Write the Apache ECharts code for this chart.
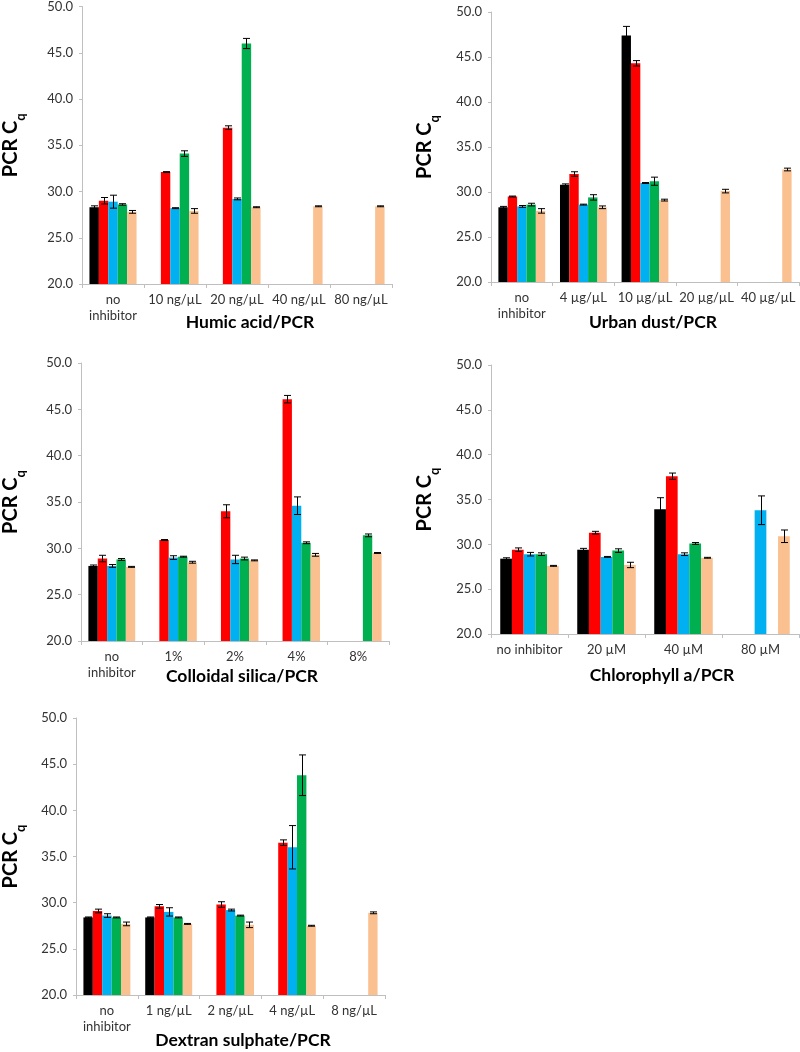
<!DOCTYPE html>
<html>
<head>
<meta charset="utf-8">
<script src="https://cdn.jsdelivr.net/npm/echarts@6/dist/echarts.min.js"></script>
<style>
html,body{margin:0;padding:0;background:#fff;}
#c{width:800px;height:1052px;}
</style>
</head>
<body>
<div id="c"></div>
<script>
// ---- data ----
const seriesColors = ['#000000', '#ff0000', '#00b0f0', '#00b050', '#fac090'];
const yTicks = ['20.0', '25.0', '30.0', '35.0', '40.0', '45.0', '50.0'];

const humicCats = ['no\ninhibitor', '10 ng/µL', '20 ng/µL', '40 ng/µL', '80 ng/µL'];
const humicVals = [
  [28.3, null, null, null, null],
  [29.0, 32.1, 36.9, null, null],
  [28.9, 28.2, 29.2, null, null],
  [28.6, 34.1, 46.0, null, null],
  [27.8, 27.9, 28.3, 28.4, 28.4]
];
const humicErrs = [
  [0.15, null, null, null, null],
  [0.35, 0.05, 0.2, null, null],
  [0.7, 0.05, 0.1, null, null],
  [0.08, 0.3, 0.55, null, null],
  [0.15, 0.25, 0.05, 0.05, 0.05]
];

const dustCats = ['no\ninhibitor', '4 µg/µL', '10 µg/µL', '20 µg/µL', '40 µg/µL'];
const dustVals = [
  [28.3, 30.8, 47.4, null, null],
  [29.5, 32.0, 44.3, null, null],
  [28.4, 28.6, 31.0, null, null],
  [28.6, 29.4, 31.2, null, null],
  [27.9, 28.3, 29.1, 30.1, 32.5]
];
const dustErrs = [
  [0.1, 0.1, 1.0, null, null],
  [0.05, 0.25, 0.3, null, null],
  [0.1, 0.05, 0.05, null, null],
  [0.15, 0.3, 0.45, null, null],
  [0.25, 0.15, 0.1, 0.2, 0.15]
];

const silicaCats = ['no\ninhibitor', '1%', '2%', '4%', '8%'];
const silicaVals = [
  [28.1, null, null, null, null],
  [28.9, 30.9, 34.0, 46.1, null],
  [28.1, 29.0, 28.8, 34.6, null],
  [28.8, 29.1, 28.9, 30.6, 31.4],
  [28.0, 28.5, 28.7, 29.3, 29.5]
];
const silicaErrs = [
  [0.1, null, null, null, null],
  [0.35, 0.05, 0.7, 0.4, null],
  [0.15, 0.2, 0.45, 0.95, null],
  [0.1, 0.05, 0.15, 0.1, 0.15],
  [0.05, 0.1, 0.05, 0.15, 0.05]
];

const chloroCats = ['no inhibitor', '20 µM', '40 µM', '80 µM'];
const chloroVals = [
  [28.4, 29.4, 33.9, null],
  [29.4, 31.3, 37.6, null],
  [28.9, 28.6, 28.9, 33.8],
  [28.9, 29.3, 30.1, null],
  [27.6, 27.7, 28.5, 30.9]
];
const chloroErrs = [
  [0.1, 0.15, 1.3, null],
  [0.2, 0.15, 0.35, null],
  [0.2, 0.05, 0.15, 1.6],
  [0.15, 0.2, 0.1, null],
  [0.05, 0.3, 0.05, 0.7]
];

const dextranCats = ['no\ninhibitor', '1 ng/µL', '2 ng/µL', '4 ng/µL', '8 ng/µL'];
const dextranVals = [
  [28.4, 28.4, null, null, null],
  [29.1, 29.6, 29.8, 36.5, null],
  [28.6, 29.0, 29.2, 36.0, null],
  [28.4, 28.4, 28.6, 43.8, null],
  [27.7, 27.7, 27.6, 27.5, 28.9]
];
const dextranErrs = [
  [0.05, 0.05, null, null, null],
  [0.2, 0.2, 0.3, 0.3, null],
  [0.2, 0.45, 0.1, 2.35, null],
  [0.05, 0.05, 0.05, 2.2, null],
  [0.2, 0.05, 0.3, 0.05, 0.1]
];

const panelTitles = ['Humic acid/PCR', 'Urban dust/PCR', 'Colloidal silica/PCR', 'Chlorophyll a/PCR', 'Dextran sulphate/PCR'];

// ---- layout ----
const FONT = 'Lato, "Open Sans", sans-serif';
const GAP = 0.24;
const panels = [
  { cats: humicCats, vals: humicVals, errs: humicErrs, grid: { left: 80, top: 5, width: 312, height: 279 }, title: [250, 313], nameGap: 55 },
  { cats: dustCats, vals: dustVals, errs: dustErrs, grid: { left: 491, top: 12, width: 308, height: 270 }, title: [653, 313], nameGap: 50 },
  { cats: silicaCats, vals: silicaVals, errs: silicaErrs, grid: { left: 79, top: 363, width: 310, height: 278 }, title: [242, 667], nameGap: 54 },
  { cats: chloroCats, vals: chloroVals, errs: chloroErrs, grid: { left: 491, top: 365, width: 308, height: 269 }, title: [662, 666], nameGap: 50 },
  { cats: dextranCats, vals: dextranVals, errs: dextranErrs, grid: { left: 74, top: 718, width: 311, height: 277 }, title: [243, 1031], nameGap: 49 }
];

const grids = [], xAxes = [], yAxes = [], series = [], titles = [];
panels.forEach((p, pi) => {
  grids.push(Object.assign({ containLabel: false }, p.grid));
  xAxes.push({
    type: 'category', gridIndex: pi, data: p.cats,
    axisLine: { lineStyle: { color: '#bfbfbf', width: 1 } },
    axisTick: { show: true, length: 4, lineStyle: { color: '#bfbfbf' } },
    axisLabel: { interval: 0, color: '#333', fontFamily: FONT, fontSize: 13, margin: 8, lineHeight: 16 },
    splitLine: { show: false }
  });
  yAxes.push({
    type: 'value', gridIndex: pi, min: 20, max: 50, interval: 5,
    axisLine: { show: true, lineStyle: { color: '#bfbfbf', width: 1 } },
    axisTick: { show: true, length: 3, lineStyle: { color: '#bfbfbf' } },
    splitLine: { show: false },
    axisLabel: {
      color: '#333', fontFamily: FONT, fontSize: 13, margin: 9,
      formatter: v => yTicks[Math.round((v - 20) / 5)]
    },
    name: '{a|PCR C}{b|q}',
    nameLocation: 'middle',
    nameGap: p.nameGap,
    nameTextStyle: {
      rich: {
        a: { fontFamily: FONT, fontSize: 20, fontWeight: 'bold', color: '#000', lineHeight: 21, verticalAlign: 'top' },
        b: { fontFamily: FONT, fontSize: 13, fontWeight: 'bold', color: '#000', lineHeight: 26, verticalAlign: 'bottom' }
      }
    }
  });
  p.vals.forEach((vals, si) => {
    series.push({
      type: 'bar', xAxisIndex: pi, yAxisIndex: pi,
      data: vals, barGap: '0%', barCategoryGap: (GAP * 100) + '%',
      itemStyle: { color: seriesColors[si] },
      silent: true, animation: false
    });
  });
  const errData = [];
  p.vals.forEach((vals, si) => {
    vals.forEach((v, ci) => {
      if (v != null && p.errs[si][ci] != null) errData.push([ci, v, p.errs[si][ci], si]);
    });
  });
  series.push({
    type: 'custom', xAxisIndex: pi, yAxisIndex: pi, z: 10,
    data: errData, encode: { x: 0, y: 1 }, animation: false, silent: true,
    renderItem: (params, api) => {
      const ci = api.value(0), v = api.value(1), e = api.value(2), si = api.value(3);
      const c = api.coord([ci, v]);
      const band = api.size([1, 0])[0];
      const total = band * (1 - GAP);
      const bw = total / 5;
      const x = Math.round(c[0] - total / 2 + (si + 0.5) * bw) + 0.5;
      const hi = api.coord([ci, v + e])[1];
      const lo = api.coord([ci, v - e])[1];
      const cap = 3.5;
      const st = { stroke: '#000', lineWidth: 1 };
      return {
        type: 'group',
        children: [
          { type: 'line', shape: { x1: x, y1: hi, x2: x, y2: lo }, style: st },
          { type: 'line', shape: { x1: x - cap, y1: hi, x2: x + cap, y2: hi }, style: st },
          { type: 'line', shape: { x1: x - cap, y1: lo, x2: x + cap, y2: lo }, style: st }
        ]
      };
    }
  });
  titles.push({
    text: panelTitles[pi], left: p.title[0], top: p.title[1], textAlign: 'center', padding: 0,
    textStyle: { fontFamily: FONT, fontSize: 17.5, fontWeight: 'bold', color: '#000' }
  });
});

const chart = echarts.init(document.getElementById('c'), null, { renderer: 'canvas' });
chart.setOption({
  animation: false,
  backgroundColor: '#fff',
  title: titles,
  grid: grids,
  xAxis: xAxes,
  yAxis: yAxes,
  series: series
});
</script>
</body>
</html>
